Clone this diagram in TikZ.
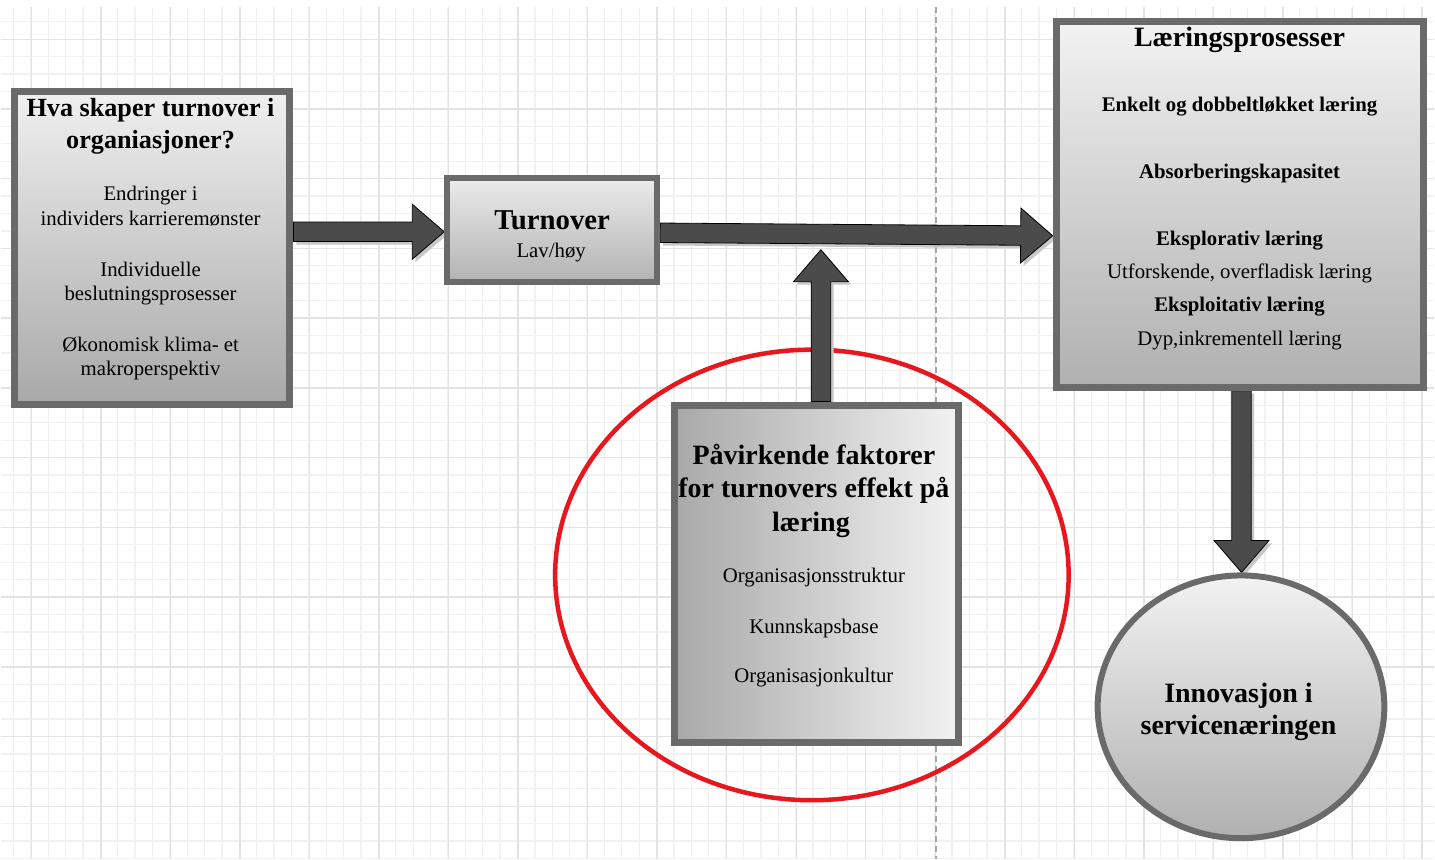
\documentclass[tikz,border=0pt]{standalone}
\usepackage{fontspec}
\setmainfont{Liberation Serif}
\usetikzlibrary{calc,shapes.geometric}

\definecolor{edge}{HTML}{6A6A6A}
\definecolor{arrowfill}{HTML}{4B4B4B}
\definecolor{gridminor}{HTML}{F1F1F1}
\definecolor{gridmajor}{HTML}{E3E3E3}
\definecolor{ring}{HTML}{E8161D}
\definecolor{pagebreak}{HTML}{A8A8A8}

\pgfdeclarelayer{paper}
\pgfdeclarelayer{links}
\pgfsetlayers{paper,links,main}

% thick block arrow from #1 (tail) to #2 (tip), with a soft offset shadow
\newcommand\fatarrow[2]{%
  \coordinate (hb) at ($(#2)!32pt!(#1)$);
  \coordinate (ta) at ($(#1)!9.75pt!90:(#2)$);
  \coordinate (tb) at ($(#1)!9.75pt!-90:(#2)$);
  \coordinate (sa) at ($(hb)!9.75pt!-90:(#1)$);
  \coordinate (sb) at ($(hb)!9.75pt!90:(#1)$);
  \coordinate (ha) at ($(hb)!27.5pt!-90:(#1)$);
  \coordinate (hbb) at ($(hb)!27.5pt!90:(#1)$);
  \fill[arrowshadow] (ta) -- (sa) -- (ha) -- (#2) -- (hbb) -- (sb) -- (tb) -- cycle;
  \filldraw[arrowbody] (ta) -- (sa) -- (ha) -- (#2) -- (hbb) -- (sb) -- (tb) -- cycle;
}

\begin{document}
\begin{tikzpicture}[x=1pt,y=-1pt,
  box/.style={draw=edge, line width=7pt, inner sep=0pt},
  ttl/.style={font=\fontsize{28}{33}\selectfont\bfseries, inner sep=0pt, anchor=base},
  txt/.style={font=\fontsize{20.8}{25}\selectfont, inner sep=0pt, anchor=base},
  btxt/.style={font=\fontsize{20.8}{25}\selectfont\bfseries, inner sep=0pt, anchor=base},
  arrowbody/.style={fill=arrowfill, draw=black, line width=0.8pt, line join=miter},
  arrowshadow/.style={fill=black!22, transform canvas={shift={(3pt,-3pt)}}}]

% page, grid, page break and highlight ring
\begin{pgfonlayer}{paper}
\fill[white] (0,0) rectangle (1435,860);
\foreach \k in {0,...,81}
  \draw[gridminor, line width=1.3pt] ({12.7+17.4*\k},7) -- ({12.7+17.4*\k},860);
\foreach \k in {1,...,49}
  \draw[gridminor, line width=1.3pt] (0,{4.35+17.45*\k}) -- (1435,{4.35+17.45*\k});
\foreach \m in {0,...,20}
  \draw[gridmajor, line width=1.4pt] ({30.7+69.6*\m},7) -- ({30.7+69.6*\m},860);
\foreach \m in {0,...,11}
  \draw[gridmajor, line width=1.4pt] (0,{39.25+69.8*\m}) -- (1435,{39.25+69.8*\m});
\draw[pagebreak, line width=1.4pt, dash pattern=on 6pt off 4pt] (936,7) -- (936,860);
\node[ellipse, draw=ring, line width=4.5pt, minimum width=514pt, minimum height=451pt, inner sep=0pt] (ring) at (812,575.5) {};
\end{pgfonlayer}
\useasboundingbox (0,0) rectangle (1435,860);

% blocks
\node[box, top color=white!94!black, bottom color=white!66!black, minimum width=276pt, minimum height=313pt] (hva) at (151.5,248) {};
\node[box, line width=6pt, top color=white!92!black, bottom color=white!70!black, minimum width=210pt, minimum height=104pt] (turn) at (552,230.5) {};
\node[box, top color=white!95!black, bottom color=white!69!black, minimum width=368pt, minimum height=366pt] (lear) at (1240.5,204.5) {};
\node[box, left color=white!66!black, right color=white!95!black, minimum width=284pt, minimum height=338pt] (pav) at (816.5,574.5) {};
\node[ellipse, draw=edge, line width=6pt, top color=white!95!black, bottom color=white!69!black, minimum width=287pt, minimum height=263pt, inner sep=0pt] (circ) at (1241.5,707.5) {};

% connectors
\path (hva.east |- turn.west) ++(0,1.5) coordinate (a1s);
\path (turn.west) ++(0,1.5) coordinate (a1e);
\path (turn.east) ++(0,2.5) coordinate (a2s);
\path (lear.west |- turn.east) ++(0,5.5) coordinate (a2e);
\path (pav.north) ++(4.5,0) coordinate (a3s);
\path (a3s |- turn.east) ++(0,19.5) coordinate (a3e);
\path (lear.south) ++(1.5,0) coordinate (a4s);
\coordinate (a4e) at (a4s |- circ.north);

\begin{pgfonlayer}{links}
\fatarrow{a1s}{a1e}
\fatarrow{a2s}{a2e}
\fatarrow{a3s}{a3e}
\fatarrow{a4s}{a4e}
\end{pgfonlayer}

% texts: left block
\node[ttl, font=\fontsize{26.2}{33}\selectfont\bfseries] (h1) at (150,116.7) {Hva skaper turnover i};
\node[ttl, font=\fontsize{26.2}{33}\selectfont\bfseries] (h2) at (150,148.3) {organiasjoner?};
\node[txt] (h3) at (150,200.7) {Endringer i};
\node[txt] (h4) at (150,226) {individers karrieremønster};
\node[txt] (h5) at (150,276.7) {Individuelle};
\node[txt] (h6) at (150,300.7) {beslutningsprosesser};
\node[txt] (h7) at (150,351.7) {Økonomisk klima- et};
\node[txt] (h8) at (150,376) {makroperspektiv};

% texts: turnover
\node[ttl, font=\fontsize{28.8}{33}\selectfont\bfseries] (u1) at (552,229.3) {Turnover};
\node[txt] (u2) at (551,257.3) {Lav/høy};

% texts: learning processes
\node[ttl] (l1) at (1240,46.7) {Læringsprosesser};
\node[btxt] (l2) at (1240,111.7) {Enkelt og dobbeltløkket læring};
\node[btxt] (l3) at (1240,179) {Absorberingskapasitet};
\node[btxt] (l4) at (1240,245.7) {Eksplorativ læring};
\node[txt] (l5) at (1240,278.3) {Utforskende, overfladisk læring};
\node[btxt] (l6) at (1240,312.3) {Eksploitativ læring};
\node[txt] (l7) at (1240,346) {Dyp,inkrementell læring};

% texts: influencing factors
\node[ttl] (p1) at (814,465) {Påvirkende faktorer};
\node[ttl] (p2) at (814,498.3) {for turnovers effekt på};
\node[ttl] (p3) at (811,531.7) {læring};
\node[txt] (p4) at (814,583.3) {Organisasjonsstruktur};
\node[txt] (p5) at (814,634) {Kunnskapsbase};
\node[txt] (p6) at (814,683.3) {Organisasjonkultur};

% texts: innovation
\node[ttl] (c1) at (1239,703.3) {Innovasjon i};
\node[ttl] (c2) at (1239,735) {servicenæringen};
\end{tikzpicture}
\end{document}
